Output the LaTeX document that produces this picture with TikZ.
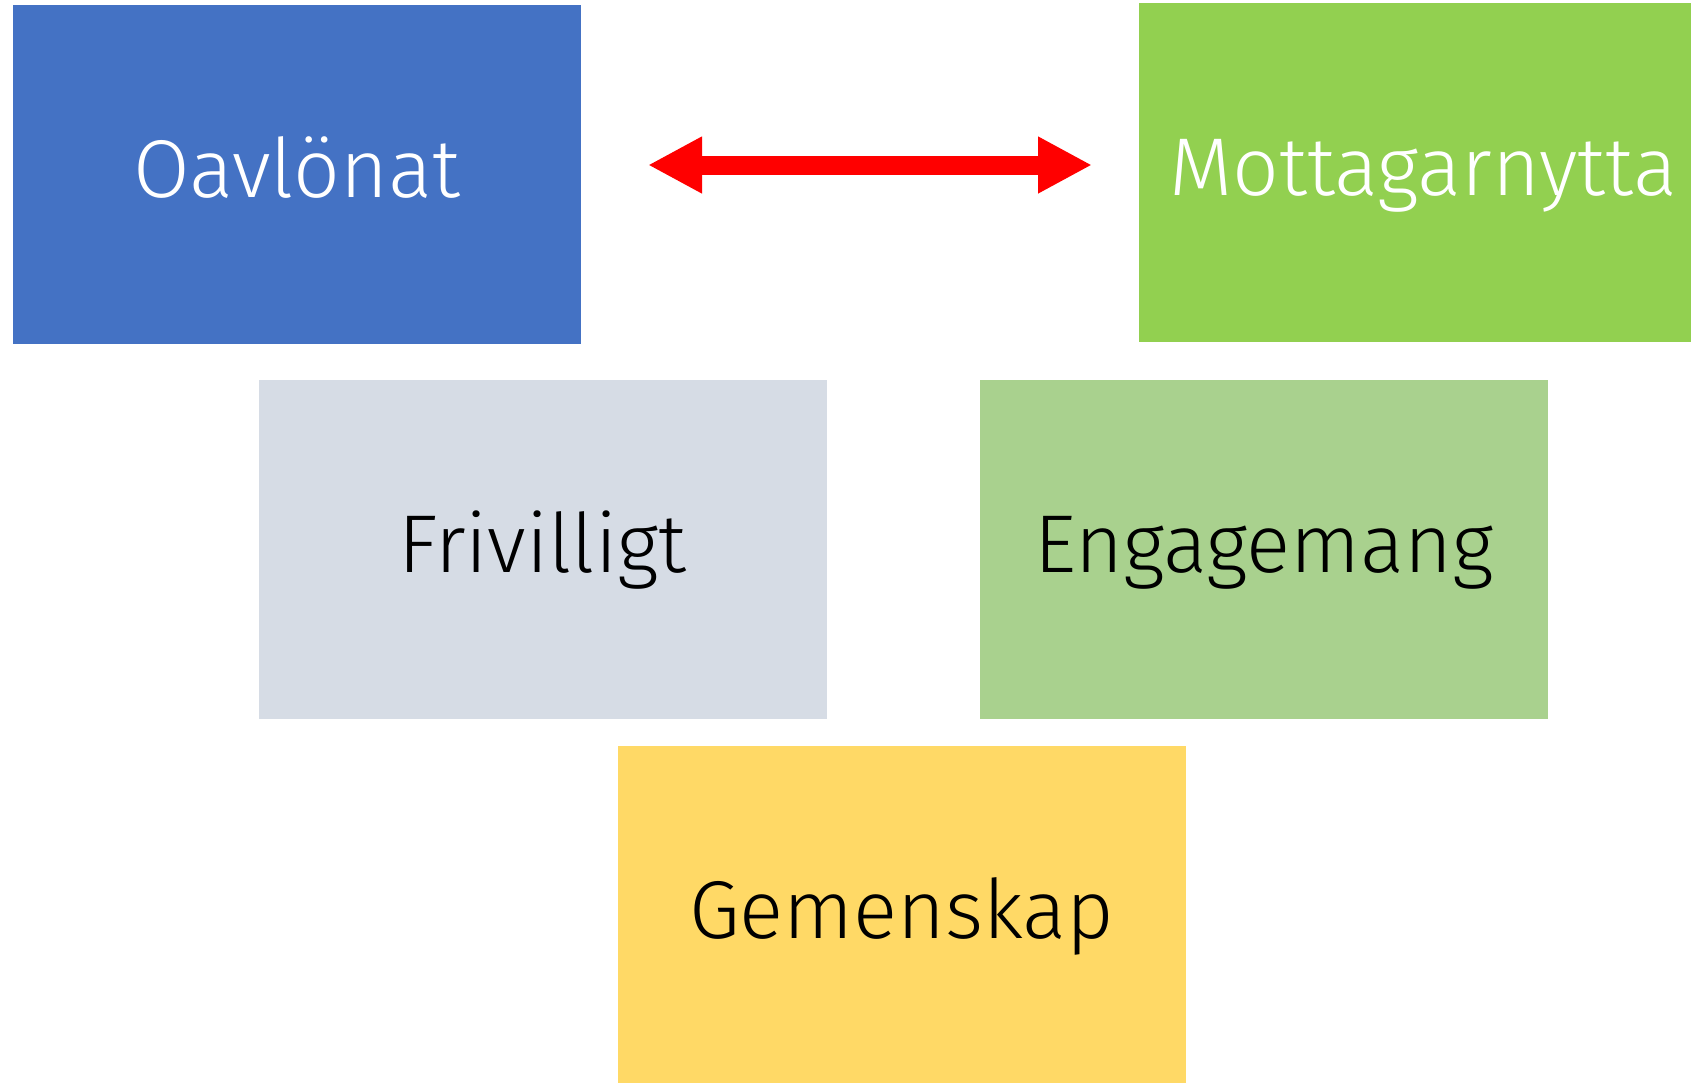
\documentclass[tikz,border=0pt]{standalone}
\usepackage{fontspec}
\setmainfont{Fira Sans}[UprightFont={* Light}]
\usetikzlibrary{arrows.meta}
\definecolor{tileblue}{HTML}{4472C4}
\definecolor{tilegreen}{HTML}{92D050}
\definecolor{tilegray}{HTML}{D6DCE5}
\definecolor{tilesage}{HTML}{A9D18E}
\definecolor{tilegold}{HTML}{FFD966}
\begin{document}
\begin{tikzpicture}[x=1pt,y=-1pt,
    tile/.style={inner sep=0,minimum width=568pt,minimum height=339pt,
      font=\fontsize{82pt}{90pt}\selectfont,text height=60pt,text depth=15pt},
    twohead/.style={{Triangle[length=54pt,width=53pt]}-{Triangle[length=54pt,width=53pt]}}]
    \useasboundingbox (0,0) rectangle (1691,1082);
    \path (297,174.5) node [tile,fill=tileblue,text=white](oav){Oavlönat};
    \path (1423,172.5) node [tile,fill=tilegreen,text=white](mott){Mottagarnytta};
    \path (542.5,549.5) node [tile,fill=tilegray](friv){Frivilligt};
    \path (1264,549.5) node [tile,fill=tilesage](eng){Engagemang};
    \path (901.5,915.5) node [tile,fill=tilegold](gem){Gemenskap};
    \coordinate (al) at (648,165);
    \coordinate (ar) at (1092,165);
    \draw[twohead,red,line width=19pt] (al) -- (ar);
  \end{tikzpicture}
\end{document}
